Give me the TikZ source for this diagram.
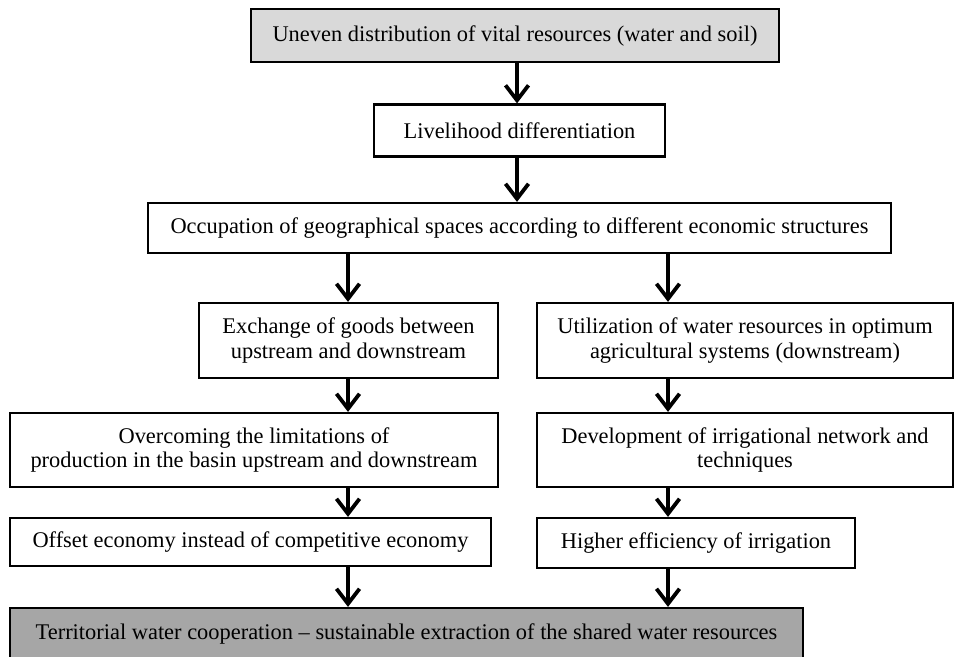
\documentclass[tikz,border=0pt]{standalone}
\usepackage{fontspec}
\setmainfont{Liberation Serif}
\usetikzlibrary{arrows.meta}
\begin{document}
\begin{tikzpicture}[x=1bp,y=-1bp,
  box/.style={draw=black, line width=2.2bp, rectangle, inner sep=0pt, align=center,
    font=\fontsize{22.5}{24.5}\selectfont},
  arr/.style={line width=3.8bp, -{Straight Barb[length=15bp,width=23bp,line width=3.8bp]}}]
\useasboundingbox (0,0) rectangle (954,657);
\node[box, fill={rgb,255:red,217;green,217;blue,217}, minimum width=528bp, minimum height=53bp] (top) at (515,35.5) {Uneven distribution of vital resources (water and soil)};
\node[box, minimum width=291bp, minimum height=52bp] (live) at (519.5,130.5) {Livelihood differentiation};
\node[box, minimum width=743bp, minimum height=50bp] (occ) at (519.5,228) {Occupation of geographical spaces according to different economic structures};
\node[box, minimum width=299bp, minimum height=75bp] (exch) at (348.5,340.5) {Exchange of goods between\\upstream and downstream};
\node[box, minimum width=416bp, minimum height=75bp] (util) at (745,340.5) {Utilization of water resources in optimum\\agricultural systems (downstream)};
\node[box, minimum width=488bp, minimum height=74bp] (over) at (254,450) {Overcoming the limitations of\\production in the basin upstream and downstream};
\node[box, minimum width=416bp, minimum height=74bp] (dev) at (745,450) {Development of irrigational network and\\techniques};
\node[box, minimum width=481bp, minimum height=48bp] (off) at (250.5,542) {Offset economy instead of competitive economy};
\node[box, minimum width=318bp, minimum height=50bp] (high) at (696,543) {Higher efficiency of irrigation};
\node[box, fill={rgb,255:red,166;green,166;blue,166}, minimum width=793bp, minimum height=52bp] (bot) at (406.5,634) {Territorial water cooperation -- sustainable extraction of the shared water resources};
\coordinate (L) at (348,0);
\coordinate (R) at (668,0);
\coordinate (C) at (517,0);
\draw[arr] (top.south -| C) -- (live.north -| C);
\draw[arr] (live.south -| C) -- (occ.north -| C);
\draw[arr] (occ.south -| L) -- (exch.north -| L);
\draw[arr] (occ.south -| R) -- (util.north -| R);
\draw[arr] (exch.south -| L) -- (over.north -| L);
\draw[arr] (util.south -| R) -- (dev.north -| R);
\draw[arr] (over.south -| L) -- (off.north -| L);
\draw[arr] (dev.south -| R) -- (high.north -| R);
\draw[arr] (off.south -| L) -- (bot.north -| L);
\draw[arr] (high.south -| R) -- (bot.north -| R);
\end{tikzpicture}
\end{document}
